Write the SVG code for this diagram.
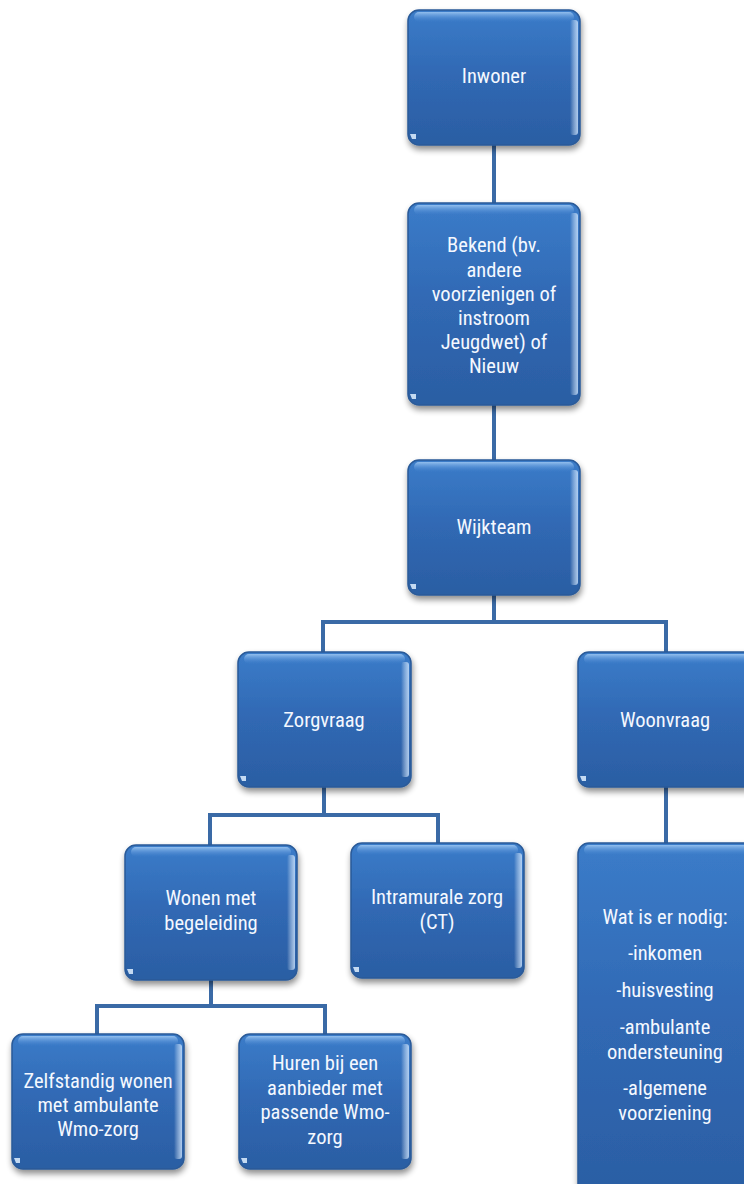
<svg xmlns="http://www.w3.org/2000/svg" width="744" height="1184" viewBox="0 0 744 1184">
<defs>
<linearGradient id="fill" x1="0" y1="0" x2="0" y2="1">
<stop offset="0" stop-color="#3b7cc9"/>
<stop offset="0.5" stop-color="#3068b3"/>
<stop offset="1" stop-color="#2b5ea3"/>
</linearGradient>
<linearGradient id="hl" x1="0" y1="0" x2="0" y2="1">
<stop offset="0" stop-color="#9cc6f2" stop-opacity="0.9"/>
<stop offset="1" stop-color="#4a8ad6" stop-opacity="0"/>
</linearGradient>
<linearGradient id="side" x1="0" y1="0" x2="1" y2="0">
<stop offset="0" stop-color="#ffffff" stop-opacity="0"/>
<stop offset="1" stop-color="#cfe6ff" stop-opacity="0.8"/>
</linearGradient>
<filter id="sh" x="-10%" y="-10%" width="130%" height="130%">
<feGaussianBlur in="SourceAlpha" stdDeviation="3"/>
<feOffset dx="1" dy="4" result="b"/>
<feComponentTransfer><feFuncA type="linear" slope="0.45"/></feComponentTransfer>
<feMerge><feMergeNode/><feMergeNode in="SourceGraphic"/></feMerge>
</filter>
</defs>
<style>
.box{fill:url(#fill);stroke:#2a5a98;stroke-width:1.5;filter:url(#sh)}
.hl{fill:url(#hl)}
.side{fill:url(#side)}
.corner{fill:#dff0ff;opacity:0.85}
.conn{fill:none;stroke:#3a6aa6;stroke-width:4}
text{font-family:"Liberation Sans Narrow","Roboto Condensed","Liberation Sans",sans-serif;font-size:20.5px;fill:#f4f8ff;text-anchor:middle;dominant-baseline:central}
</style>
<rect width="744" height="1184" fill="#ffffff"/>
<g id="connectors">
<path class="conn" d="M494 145V203"/>
<path class="conn" d="M494 405V460"/>
<path class="conn" d="M494 595V622M323 652V622H666V652"/>
<path class="conn" d="M324 787V815M210 845V815H438V843"/>
<path class="conn" d="M666 787V843"/>
<path class="conn" d="M211 980V1006M97 1035V1006H325V1035"/>
</g>
<g id="n-inwoner">
<rect class="box" x="408" y="10" width="172" height="135" rx="11"/>
<rect class="hl" x="414" y="12" width="160" height="10" rx="5"/>
<rect class="side" x="570" y="20" width="8" height="115" rx="3"/>
<path class="corner" d="M410 134h6v5h-4z"/>
<text x="494" y="76">Inwoner</text>
</g>
<g id="n-bekend">
<rect class="box" x="408" y="203" width="172" height="202" rx="11"/>
<rect class="hl" x="414" y="205" width="160" height="10" rx="5"/>
<rect class="side" x="570" y="213" width="8" height="182" rx="3"/>
<path class="corner" d="M410 394h6v5h-4z"/>
<text x="494" y="245">Bekend (bv.</text>
<text x="494" y="270">andere</text>
<text x="494" y="294">voorzienigen of</text>
<text x="494" y="318">instroom</text>
<text x="494" y="342">Jeugdwet) of</text>
<text x="494" y="366">Nieuw</text>
</g>
<g id="n-wijkteam">
<rect class="box" x="408" y="460" width="172" height="135" rx="11"/>
<rect class="hl" x="414" y="462" width="160" height="10" rx="5"/>
<rect class="side" x="570" y="470" width="8" height="115" rx="3"/>
<path class="corner" d="M410 584h6v5h-4z"/>
<text x="494" y="527">Wijkteam</text>
</g>
<g id="n-zorgvraag">
<rect class="box" x="238" y="652" width="173" height="135" rx="11"/>
<rect class="hl" x="244" y="654" width="161" height="10" rx="5"/>
<rect class="side" x="401" y="662" width="8" height="115" rx="3"/>
<path class="corner" d="M240 776h6v5h-4z"/>
<text x="324" y="720">Zorgvraag</text>
</g>
<g id="n-woonvraag">
<rect class="box" x="578" y="652" width="180" height="135" rx="11"/>
<rect class="hl" x="584" y="654" width="170" height="10" rx="5"/>
<path class="corner" d="M580 776h6v5h-4z"/>
<text x="665" y="720">Woonvraag</text>
</g>
<g id="n-wonen">
<rect class="box" x="125" y="845" width="172" height="135" rx="11"/>
<rect class="hl" x="131" y="847" width="160" height="10" rx="5"/>
<rect class="side" x="287" y="855" width="8" height="115" rx="3"/>
<path class="corner" d="M127 969h6v5h-4z"/>
<text x="211" y="898">Wonen met</text>
<text x="211" y="923">begeleiding</text>
</g>
<g id="n-intramuraal">
<rect class="box" x="351" y="843" width="173" height="135" rx="11"/>
<rect class="hl" x="357" y="845" width="161" height="10" rx="5"/>
<rect class="side" x="514" y="853" width="8" height="115" rx="3"/>
<path class="corner" d="M353 967h6v5h-4z"/>
<text x="437" y="897">Intramurale zorg</text>
<text x="437" y="922">(CT)</text>
</g>
<g id="n-watnodig">
<rect class="box" x="578" y="843" width="180" height="360" rx="11"/>
<rect class="hl" x="584" y="845" width="170" height="10" rx="5"/>
<text x="665" y="917">Wat is er nodig:</text>
<text x="665" y="953">-inkomen</text>
<text x="665" y="990">-huisvesting</text>
<text x="665" y="1027">-ambulante</text>
<text x="665" y="1052">ondersteuning</text>
<text x="665" y="1088">-algemene</text>
<text x="665" y="1113">voorziening</text>
</g>
<g id="n-zelfstandig">
<rect class="box" x="12" y="1034" width="172" height="135" rx="11"/>
<rect class="hl" x="18" y="1036" width="160" height="10" rx="5"/>
<rect class="side" x="174" y="1044" width="8" height="115" rx="3"/>
<path class="corner" d="M14 1158h6v5h-4z"/>
<text x="98" y="1081">Zelfstandig wonen</text>
<text x="98" y="1105">met ambulante</text>
<text x="98" y="1129">Wmo-zorg</text>
</g>
<g id="n-huren">
<rect class="box" x="239" y="1034" width="172" height="135" rx="11"/>
<rect class="hl" x="245" y="1036" width="160" height="10" rx="5"/>
<rect class="side" x="401" y="1044" width="8" height="115" rx="3"/>
<path class="corner" d="M241 1158h6v5h-4z"/>
<text x="325" y="1063">Huren bij een</text>
<text x="325" y="1088">aanbieder met</text>
<text x="325" y="1112">passende Wmo-</text>
<text x="325" y="1137">zorg</text>
</g>
</svg>
